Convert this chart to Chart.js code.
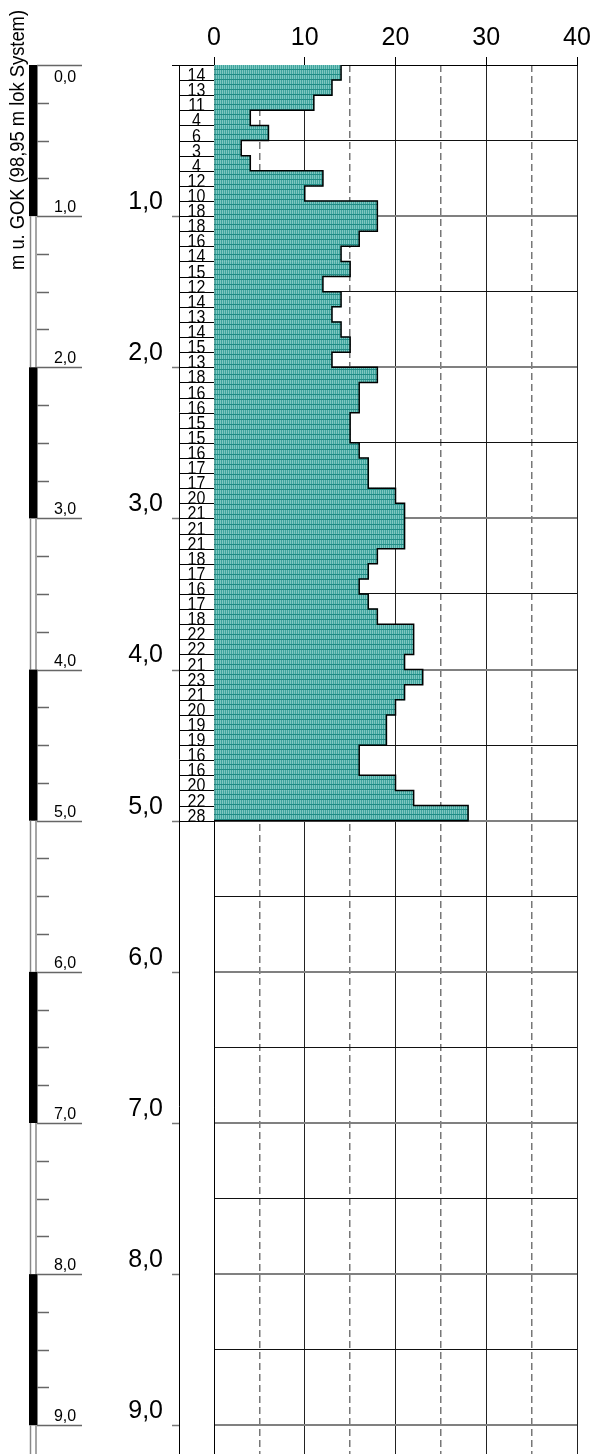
<!DOCTYPE html>
<html>
<head>
<meta charset="utf-8">
<script src="https://cdn.jsdelivr.net/npm/chart.js@4/dist/chart.umd.min.js"></script>
<style>
html,body{margin:0;padding:0;background:#fff;overflow:hidden}
#wrap{width:593px;height:1454px;position:relative}
</style>
</head>
<body>
<div id="wrap"><canvas id="c" width="593" height="1454"></canvas></div>
<script>
// ---- data ----
const intervalTops = [0.0,0.1,0.2,0.3,0.4,0.5,0.6,0.7,0.8,0.9,
                      1.0,1.1,1.2,1.3,1.4,1.5,1.6,1.7,1.8,1.9,
                      2.0,2.1,2.2,2.3,2.4,2.5,2.6,2.7,2.8,2.9,
                      3.0,3.1,3.2,3.3,3.4,3.5,3.6,3.7,3.8,3.9,
                      4.0,4.1,4.2,4.3,4.4,4.5,4.6,4.7,4.8,4.9];
const blows = [14,13,11,4,6,3,4,12,10,18,
               18,16,14,15,12,14,13,14,15,13,
               18,16,16,15,15,16,17,17,20,21,
               21,21,18,17,16,17,18,22,22,21,
               23,21,20,19,19,16,16,20,22,28];
const intervalSize = 0.1;
const depthTickLabels = ['1,0','2,0','3,0','4,0','5,0','6,0','7,0','8,0','9,0'];
const columnTickLabels = ['0,0','1,0','2,0','3,0','4,0','5,0','6,0','7,0','8,0','9,0'];
const blackSegmentStarts = [0,2,4,6,8];
const axisTitle = 'm u. GOK (98,95 m lok System)';

const FONT = "'Liberation Sans', Arial, sans-serif";
const isInt = v => Math.abs(v - Math.round(v)) < 1e-6;

const canvas = document.getElementById('c');
const mainCtx = canvas.getContext('2d');

function makePattern(){
  const p = document.createElement('canvas');
  p.width = 2; p.height = 5;
  const g = p.getContext('2d');
  g.fillStyle = '#7ec7c1'; g.fillRect(0,0,1,5);
  g.fillStyle = '#3fa59e'; g.fillRect(1,0,1,5);
  g.fillStyle = '#208a84'; g.fillRect(0,4,2,1);
  return mainCtx.createPattern(p,'repeat');
}

function hLine(ctx, x1, x2, y){
  ctx.beginPath(); ctx.moveTo(x1, y); ctx.lineTo(x2, y); ctx.stroke();
}
function vLine(ctx, x, y1, y2){
  ctx.beginPath(); ctx.moveTo(x, y1); ctx.lineTo(x, y2); ctx.stroke();
}
function zeroPad(s){ s.paddingTop = 0; s.paddingBottom = 0; s.paddingLeft = 0; s.paddingRight = 0; }

const decor = {
  id: 'decor',
  afterDraw(chart){
    const ctx = chart.ctx;
    const ys = chart.scales.y, xs = chart.scales.x;
    const x0 = Math.round(xs.getPixelForValue(0));
    const colLeft = x0 - 35;
    const py = v => Math.round(ys.getPixelForValue(v)) + 0.5;
    const bottom = chart.height;
    ctx.save();

    // ---- value label column ----
    ctx.strokeStyle = '#000'; ctx.lineWidth = 1;
    vLine(ctx, colLeft + 0.5, py(0) - 0.5, bottom);
    hLine(ctx, colLeft - 7, x0, py(0));
    ctx.strokeStyle = '#777'; ctx.lineWidth = 1.5;
    for (let m = 1; m <= 9; m++) hLine(ctx, colLeft - 7, colLeft, py(m));
    ctx.strokeStyle = '#000'; ctx.lineWidth = 1;
    ctx.fillStyle = '#000';
    ctx.font = '16px ' + FONT;
    ctx.textAlign = 'center';
    ctx.textBaseline = 'alphabetic';
    intervalTops.forEach((t, i) => {
      const yb = py(t + intervalSize);
      hLine(ctx, colLeft, x0, yb);
      ctx.save();
      ctx.translate(colLeft + 17.5, yb);
      ctx.scale(1, 1.12);
      ctx.fillText(String(blows[i]), 0, 0);
      ctx.restore();
    });

    // ---- stratigraphic scale column ----
    const maxD = ys.max;
    for (let m = 0; m < Math.ceil(maxD); m++) {
      const top = ys.getPixelForValue(m);
      const bot = ys.getPixelForValue(Math.min(m + 1, maxD));
      if (blackSegmentStarts.includes(m)) {
        ctx.fillStyle = '#000';
        ctx.fillRect(29, top, 8.5, bot - top);
      } else {
        ctx.strokeStyle = '#888'; ctx.lineWidth = 1.5;
        vLine(ctx, 30.5, top, bot);
        vLine(ctx, 36, top, bot);
      }
    }
    ctx.strokeStyle = '#666'; ctx.lineWidth = 1.5;
    for (let q = 0; q <= maxD + 1e-9; q += 0.25) {
      const yy = py(q);
      if (isInt(q)) hLine(ctx, 37, 82, yy);
      else hLine(ctx, 37, 49, yy);
    }
    ctx.fillStyle = '#000';
    ctx.font = '16px ' + FONT;
    ctx.textAlign = 'center';
    columnTickLabels.forEach((lab, m) => {
      const yy = ys.getPixelForValue(m);
      ctx.fillText(lab, 65, m === 0 ? yy + 17 : yy - 4);
    });

    // ---- rotated axis title ----
    ctx.save();
    ctx.font = '20px ' + FONT;
    const w = ctx.measureText(axisTitle).width;
    ctx.translate(24, 270);
    ctx.rotate(-Math.PI / 2);
    ctx.scale(260 / w, 1);
    ctx.textAlign = 'left';
    ctx.fillText(axisTitle, 0, 0);
    ctx.restore();

    ctx.restore();
  }
};

const barData = intervalTops.map((t, i) => ({x: blows[i], y: t + intervalSize / 2}));
const outlineData = intervalTops.flatMap((t, i) => [{x: blows[i], y: t}, {x: blows[i], y: t + intervalSize}]);
outlineData.push({x: 0, y: intervalTops[intervalTops.length - 1] + intervalSize});

new Chart(canvas, {
  type: 'bar',
  data: {
    datasets: [
      {
        type: 'line',
        data: outlineData,
        indexAxis: 'y',
        borderColor: '#000',
        borderWidth: 1.5,
        pointRadius: 0,
        fill: false,
        tension: 0,
        order: 1,
        xAxisID: 'x', yAxisID: 'y'
      },
      {
        type: 'bar',
        data: barData,
        backgroundColor: makePattern(),
        borderWidth: 0,
        barPercentage: 1,
        categoryPercentage: 1,
        order: 2,
        xAxisID: 'x', yAxisID: 'y'
      }
    ]
  },
  options: {
    indexAxis: 'y',
    responsive: false,
    devicePixelRatio: 1,
    animation: false,
    layout: {padding: {left: 0, right: 16, top: 0, bottom: 0}},
    plugins: {legend: {display: false}, tooltip: {enabled: false}},
    scales: {
      x: {
        type: 'linear', position: 'top', min: 0, max: 40, offset: false,
        ticks: {stepSize: 10, color: '#000', font: {size: 25, family: FONT}, padding: 4,
                callback: v => String(v)},
        grid: {color: '#222', lineWidth: 1, tickColor: '#000', tickLength: 8, drawTicks: true, offset: false},
        border: {display: true, color: '#000', width: 1},
        afterFit: s => { s.height = 65; zeroPad(s); }
      },
      x2: {
        type: 'linear', position: 'top', min: 0, max: 40, offset: false,
        ticks: {stepSize: 5, display: false},
        grid: {
          color: c => (c.tick && Math.round(c.tick.value) % 10 === 5) ? '#777' : 'rgba(0,0,0,0)',
          lineWidth: 1.5, drawTicks: false, offset: false
        },
        border: {display: false, dash: [7, 4]},
        afterFit: s => { s.height = 0; zeroPad(s); }
      },
      y: {
        type: 'linear', reverse: true, min: 0, max: 9.19, offset: false,
        afterBuildTicks: s => {
          const ticks = [];
          for (let k = 0; k * 0.5 <= s.max + 1e-9; k++) ticks.push({value: k * 0.5});
          s.ticks = ticks;
        },
        ticks: {
          stepSize: 0.5, autoSkip: false, color: '#000',
          font: {size: 25, family: FONT}, padding: 51, labelOffset: -14,
          callback: v => (isInt(v) && Math.round(v) >= 1) ? depthTickLabels[Math.round(v) - 1] : ''
        },
        grid: {
          color: c => {
            if (!c.tick) return 'rgba(0,0,0,0)';
            const v = c.tick.value;
            if (v < 1e-6) return 'rgba(0,0,0,0)';
            return isInt(v) ? '#808080' : '#111';
          },
          lineWidth: c => (c.tick && isInt(c.tick.value)) ? 2 : 1,
          drawTicks: false, offset: false
        },
        border: {display: true, color: '#000', width: 1},
        afterFit: s => { s.width = 214; zeroPad(s); }
      }
    }
  },
  plugins: [decor]
});
</script>
</body>
</html>
